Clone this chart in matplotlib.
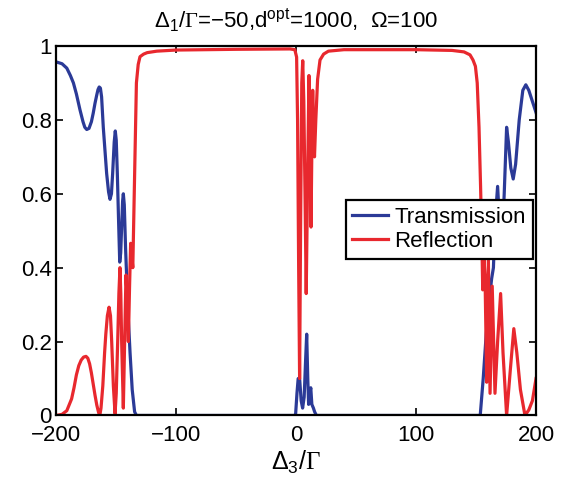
import matplotlib
matplotlib.use("Agg")
import matplotlib.pyplot as plt

plt.rcParams['font.family'] = ['Liberation Sans', 'DejaVu Sans']
plt.rcParams['mathtext.fontset'] = 'custom'
plt.rcParams['mathtext.rm'] = 'Liberation Sans'
plt.rcParams['mathtext.sf'] = 'Liberation Sans'
plt.rcParams['mathtext.it'] = 'Liberation Sans:italic'
plt.rcParams['mathtext.bf'] = 'Liberation Sans:bold'
plt.rcParams['mathtext.cal'] = 'Liberation Serif'

# Transmission (blue)
trans_x = [-200, -195, -191, -188, -185.5, -183, -180, -177.5, -176, -174.4, -172.5, -170.5, -169, -167.5,
           -166, -165, -164, -163, -162, -160.6, -157.8, -156.2, -155, -153.8, -152.8, -151.5, -150.6, -149.8,
           -148.9, -147.8, -146.9, -146.1, -145.3, -144.5, -143.9, -143.1, -142, -140, -138.3,
           -136.5, -134.5, -133,
           -1, -0.3, 0.8, 1.8, 3.0, 4.3, 5.5, 6.8, 8.0, 8.9, 9.8, 10.5, 11.5, 12.3, 13.2, 14.5, 15.5, 17,
           153.5, 156, 158.5, 161, 163, 164.5, 166, 168, 170, 171.5, 173.5, 175.5, 177, 179, 181, 183,
           186, 189, 191.5, 194, 197, 200]
trans_y = [0.957, 0.952, 0.94, 0.92, 0.90, 0.87, 0.827, 0.795, 0.78, 0.774, 0.777, 0.795, 0.818, 0.845,
           0.868, 0.882, 0.889, 0.886, 0.862, 0.78, 0.655, 0.605, 0.585, 0.60, 0.655, 0.74, 0.77, 0.745,
           0.655, 0.52, 0.415, 0.44, 0.51, 0.58, 0.60, 0.57, 0.45, 0.28, 0.17,
           0.07, 0.01, 0.0,
           0.0, 0.005, 0.06, 0.10, 0.10, 0.04, 0.02, 0.05, 0.15, 0.22, 0.10, 0.03, 0.06, 0.075, 0.03, 0.02, 0.01, 0.0,
           0.0, 0.10, 0.22, 0.31, 0.37, 0.40, 0.53, 0.62, 0.50, 0.45, 0.60, 0.78, 0.74, 0.67, 0.64, 0.68,
           0.80, 0.88, 0.895, 0.88, 0.85, 0.82]

# Reflection (red)
refl_x = [-200, -195, -191, -187, -185, -183, -181, -179, -177, -175, -173.5, -172, -170.5, -169, -167.5,
          -166, -164.5, -163.5, -162.5, -161, -159.5, -158.5, -157.2, -155.8, -154.6,
          -153.6, -152.2, -150.8, -149.8, -148.6, -147.6, -146.7, -146, -145.3, -143.9, -142.8, -141.7,
          -140.7, -139.7, -138.7, -137.8, -136.8, -136, -134.5, -133,
          -131.5, -130, -127, -124, -116, -100, -50, -5, -1,
          0.5, 1.3, 2.2, 3.0, 3.8, 4.8, 5.6, 6.5, 7.5, 8.5, 9.6, 10.8, 11.6, 12.5, 13.2, 13.9, 14.6,
          15.4, 16.5, 18, 20, 23, 27, 40, 100, 130, 140, 145, 147.5, 149.5, 151, 152.5, 153.8, 155,
          155.6, 156.7, 157.5, 158.9, 160.3, 161.7, 163.5, 165.8, 168, 170.5, 172.5, 175.5, 178.5,
          181.5, 184, 187, 190.8, 194, 197, 200]
refl_y = [0.0, 0.003, 0.013, 0.045, 0.075, 0.11, 0.135, 0.15, 0.158, 0.16, 0.155, 0.14, 0.115, 0.085, 0.055,
          0.028, 0.008, 0.0, 0.02, 0.08, 0.17, 0.22, 0.27, 0.293, 0.27,
          0.20, 0.08, 0.005, 0.06, 0.20, 0.33, 0.40, 0.33, 0.20, 0.02, 0.20, 0.38,
          0.32, 0.20, 0.35, 0.466, 0.43, 0.40, 0.65, 0.90,
          0.95, 0.971, 0.978, 0.982, 0.986, 0.989, 0.991, 0.992, 0.99,
          0.97, 0.80, 0.40, 0.10, 0.50, 0.90, 0.96, 0.85, 0.60, 0.33, 0.62, 0.92, 0.75, 0.51, 0.72, 0.88, 0.78,
          0.70, 0.80, 0.91, 0.962, 0.978, 0.986, 0.99, 0.99, 0.988, 0.984, 0.976, 0.962, 0.945, 0.90, 0.78, 0.62, 0.45,
          0.34, 0.42, 0.38, 0.09, 0.42, 0.06, 0.35, 0.06, 0.20, 0.33, 0.17, 0.0, 0.12,
          0.235, 0.17, 0.07, 0.0, 0.015, 0.04, 0.10]

x_ticks = [-200, -100, 0, 100, 200]
x_tick_labels = ['\u2212200', '\u2212100', '0', '100', '200']
y_ticks = [0, 0.2, 0.4, 0.6, 0.8, 1]
y_tick_labels = ['0', '0.2', '0.4', '0.6', '0.8', '1']

fig = plt.figure(figsize=(5.75, 4.78), dpi=100)
ax = fig.add_axes([0.0974, 0.1308, 0.8348, 0.773])

ax.plot(trans_x, trans_y, color='#2b3a97', lw=2.3, label='Transmission', solid_joinstyle='round')
ax.plot(refl_x, refl_y, color='#e8282e', lw=2.3, label='Reflection', solid_joinstyle='round')

ax.set_xlim(-200, 200)
ax.set_ylim(0, 1)
ax.set_xticks(x_ticks)
ax.set_xticklabels(x_tick_labels)
ax.set_yticks(y_ticks)
ax.set_yticklabels(y_tick_labels)
ax.tick_params(direction='in', length=5, width=1.2, labelsize=16, top=True, right=True)
ax.tick_params(axis='x', pad=7)
ax.tick_params(axis='y', pad=3)
for lab in ax.get_yticklabels():
    lab.set_verticalalignment('center_baseline')
for s in ax.spines.values():
    s.set_linewidth(1.6)

title = '$\\Delta_1/\\mathcal{\u0393}$=\u221250,d$^{\\mathrm{opt}}$=1000,  \u03a9=100'
ax.set_title(title, fontsize=16, pad=13)
ax.set_xlabel('$\\Delta_3/\\mathcal{\u0393}$', fontsize=18, labelpad=2)

leg = ax.legend(loc='upper right', bbox_to_anchor=(0.993, 0.583), fontsize=16, frameon=True,
                fancybox=False, framealpha=1, edgecolor='black', borderpad=0.3,
                labelspacing=0.15, handlelength=1.6, handletextpad=0.3, borderaxespad=0)
leg.get_frame().set_linewidth(1.6)

fig.savefig('out.png', dpi=100)
